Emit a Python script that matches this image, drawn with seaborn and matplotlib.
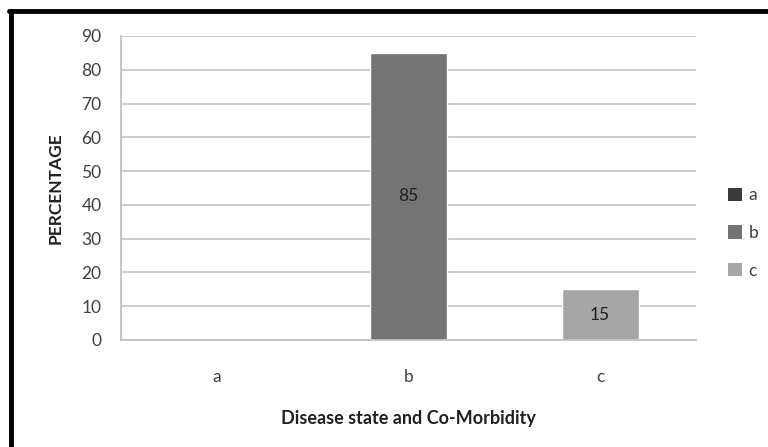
import matplotlib
matplotlib.use("Agg")
import matplotlib.pyplot as plt
import seaborn as sns
import pandas as pd
from matplotlib.lines import Line2D
from matplotlib.patches import Patch

categories = ["a", "b", "c"]
values = [0, 85, 15]
colors = ["#3b3b3b", "#747474", "#a6a6a6"]
yticks = [0, 10, 20, 30, 40, 50, 60, 70, 80, 90]

sns.set_theme(style="white")
plt.rcParams["font.family"] = ["Lato", "DejaVu Sans"]

df = pd.DataFrame({"cat": categories, "val": values})

fig = plt.figure(figsize=(7.68, 4.47), dpi=100)
ax = fig.add_axes([121/768, 1-340/447, (696-121)/768, (340-36)/447])

sns.barplot(data=df, x="cat", y="val", hue="cat", palette=colors,
            dodge=False, width=0.4, legend=False, ax=ax, saturation=1)

ax.set_ylim(0, 90)
ax.set_yticks(yticks)
ax.set_xlim(-0.5, 2.5)
ax.yaxis.grid(True, color="#c8c8c8", linewidth=1.3)
ax.set_axisbelow(True)
for s in ["top", "right"]:
    ax.spines[s].set_visible(False)
for s in ["left", "bottom"]:
    ax.spines[s].set_color("#c0c0c0")
    ax.spines[s].set_linewidth(1.3)
ax.tick_params(axis="both", length=0, labelsize=12.5, labelcolor="#404040")
ax.tick_params(axis="y", pad=14)
ax.tick_params(axis="x", pad=21)

for i, v in enumerate(values):
    if v > 0:
        ax.text(i, v/2, str(v), ha="center", va="center", fontsize=12.5, color="#202020")

ax.set_xlabel("Disease state and Co-Morbidity", fontsize=13, fontweight="bold",
              color="#202020", labelpad=18)
ax.set_ylabel("PERCENTAGE", fontsize=12.5, fontweight="bold", color="#202020", labelpad=13)

handles = [Patch(facecolor=c, edgecolor="none") for c in colors]
leg = fig.legend(handles, categories, loc="center left", bbox_to_anchor=(712/768, 1-233/447),
                 frameon=False, fontsize=12.5, handlelength=0.8, handleheight=0.8,
                 handletextpad=0.4, labelspacing=1.25, labelcolor="#404040")

# outer frame (left and top only visible)
fig.add_artist(Line2D([11/768, 11/768], [0, 1-11/447], transform=fig.transFigure,
                      color="black", linewidth=3.5))
fig.add_artist(Line2D([9/768, 1], [1-11/447, 1-11/447], transform=fig.transFigure,
                      color="black", linewidth=3.5))

fig.savefig("out.png", dpi=100)
